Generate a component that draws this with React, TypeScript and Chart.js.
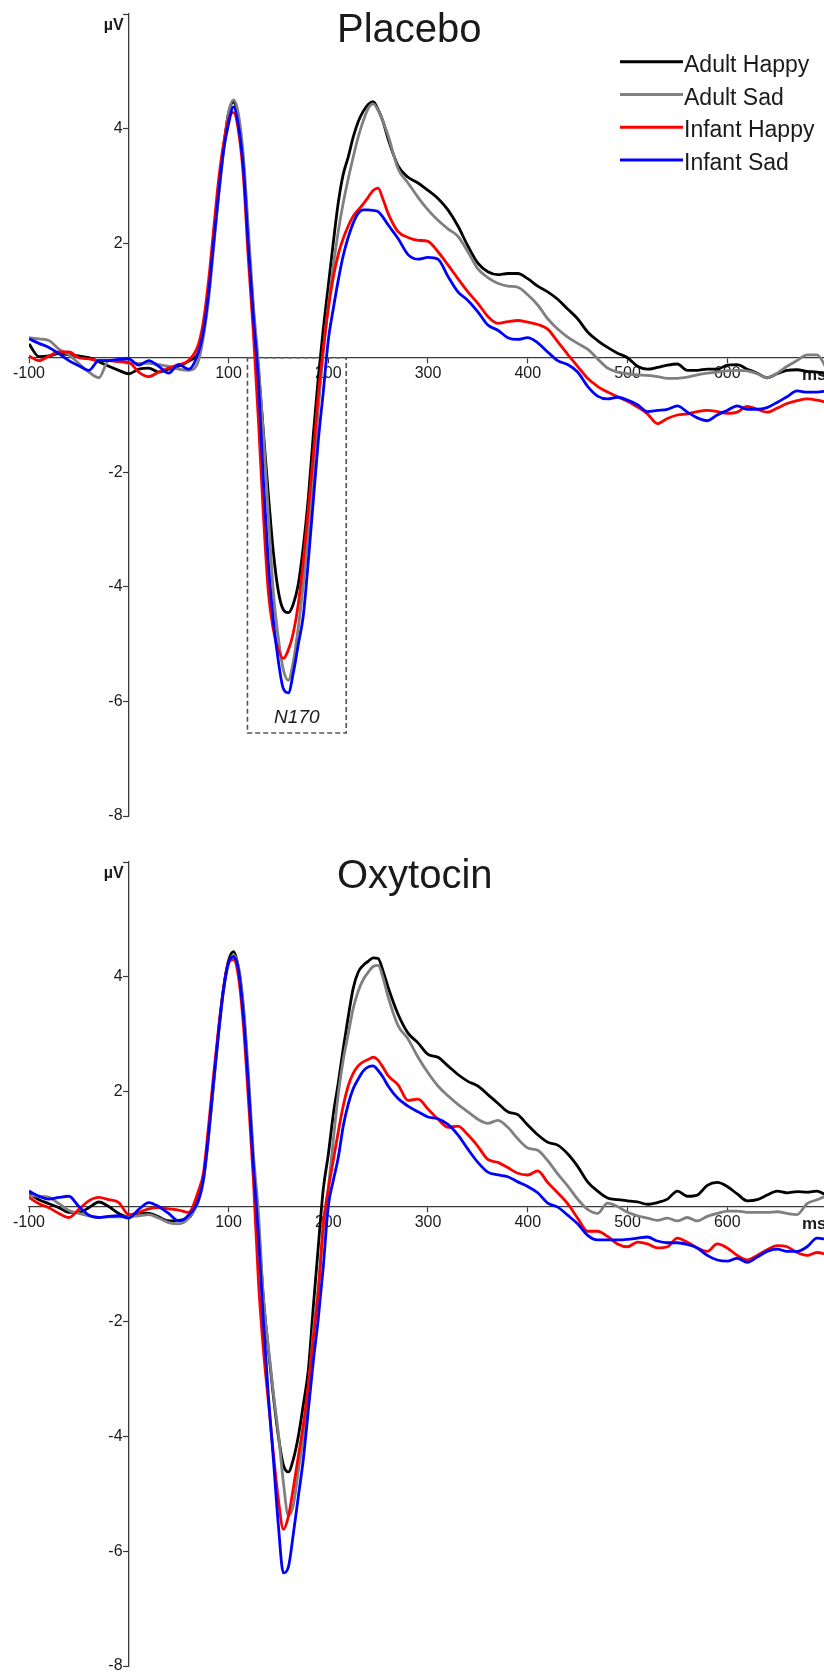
import React, { useEffect, useRef } from 'react';
import { Chart, registerables } from 'chart.js';

Chart.register(...registerables);

// ---------- data ----------
const TIMES = [
  -100, -90, -80, -70, -60, -50, -40, -30, -20, -10, 0, 10, 20, 30, 40, 50, 60, 70,
  75, 80, 85, 90, 95, 100, 105, 110, 115, 120, 125, 130, 135, 140, 145, 150, 155, 160, 165, 170,
  175, 180, 185, 190, 195, 200, 205, 210, 215, 220, 225, 230, 235, 240, 245, 250, 255, 260,
  270, 280, 290, 300, 310, 320, 330, 340, 350, 360, 370, 380, 390, 400, 410, 420, 430, 440,
  450, 460, 470, 480, 490, 500, 510, 520, 530, 540, 550, 560, 570, 580, 590, 600, 610, 620,
  630, 640, 650, 660, 670, 680, 690, 700,
];

const SERIES_NAMES = ['Adult Happy', 'Adult Sad', 'Infant Happy', 'Infant Sad'];
const SERIES_COLORS = ['#000000', '#808080', '#ff0000', '#0000ff'];

const PLACEBO_ADULT_HAPPY = [
  0.24, 0.02, 0.03, 0.07, 0.05, 0.03, 0.0, -0.07, -0.15, -0.22, -0.28, -0.2, -0.18, -0.25, -0.2, -0.15, -0.06, 0.1,
  0.45, 1.1, 2.0, 2.85, 3.65, 4.27, 4.46, 4.14, 3.32, 2.04, 0.8, -0.2, -1.3, -2.4, -3.4, -4.08, -4.4, -4.45, -4.3, -3.95,
  -3.3, -2.45, -1.35, -0.35, 0.5, 1.25, 2.0, 2.7, 3.2, 3.5, 3.85, 4.12, 4.3, 4.42, 4.47, 4.33, 4.12, 3.82,
  3.35, 3.15, 3.05, 2.92, 2.78, 2.58, 2.3, 1.95, 1.65, 1.5, 1.45, 1.47, 1.47, 1.38, 1.25, 1.15, 1.02, 0.85,
  0.68, 0.45, 0.3, 0.18, 0.08, 0.0, -0.15, -0.2, -0.17, -0.13, -0.11, -0.22, -0.22, -0.2, -0.2, -0.13, -0.12, -0.2,
  -0.27, -0.35, -0.28, -0.22, -0.21, -0.24, -0.25, -0.29,
];
const PLACEBO_ADULT_SAD = [
  0.35, 0.33, 0.3, 0.15, 0.05, -0.1, -0.25, -0.35, -0.05, -0.05, -0.1, -0.1, -0.1, -0.12, -0.15, -0.2, -0.22, -0.05,
  0.38, 1.0, 1.9, 2.8, 3.6, 4.27, 4.5, 4.25, 3.5, 2.2, 0.9, -0.1, -1.35, -2.75, -4.1, -4.9, -5.45, -5.63, -5.3, -4.7,
  -3.95, -3.05, -2.0, -0.9, 0.1, 0.9, 1.6, 2.2, 2.7, 3.12, 3.5, 3.85, 4.13, 4.35, 4.43, 4.32, 4.12, 3.88,
  3.3, 3.05, 2.8, 2.58, 2.4, 2.25, 2.12, 1.85, 1.55, 1.4, 1.3, 1.25, 1.23, 1.1, 0.92, 0.68, 0.5, 0.36,
  0.25, 0.15, -0.02, -0.18, -0.25, -0.28, -0.3, -0.31, -0.33, -0.36, -0.36, -0.34, -0.3, -0.27, -0.25, -0.23, -0.22, -0.23,
  -0.28, -0.35, -0.27, -0.15, -0.05, 0.05, 0.05, -0.2,
];
const PLACEBO_INFANT_HAPPY = [
  0.03, -0.05, 0.03, 0.1, 0.1, 0.0, -0.02, -0.05, -0.05, -0.07, -0.08, -0.25, -0.33, -0.25, -0.18, -0.12, -0.05, 0.24,
  0.65, 1.34, 2.22, 3.09, 3.73, 4.17, 4.28, 3.96, 3.15, 1.69, 0.42, -1.1, -2.75, -4.1, -4.75, -5.1, -5.25, -5.1, -4.8, -4.3,
  -3.55, -2.65, -1.7, -0.65, 0.15, 0.85, 1.4, 1.8, 2.08, 2.3, 2.47, 2.58, 2.68, 2.8, 2.92, 2.96, 2.76, 2.52,
  2.2, 2.1, 2.05, 2.03, 1.85, 1.62, 1.38, 1.15, 0.95, 0.72, 0.6, 0.63, 0.65, 0.62, 0.58, 0.5, 0.28, 0.06,
  -0.15, -0.36, -0.5, -0.6, -0.68, -0.76, -0.86, -0.98, -1.15, -1.06, -1.0, -0.98, -0.94, -0.92, -0.94, -0.97, -0.95, -0.85,
  -0.9, -0.95, -0.88, -0.8, -0.75, -0.72, -0.74, -0.78,
];
const PLACEBO_INFANT_SAD = [
  0.33, 0.25, 0.18, 0.07, -0.05, -0.14, -0.22, -0.05, -0.05, -0.03, -0.02, -0.13, -0.05, -0.15, -0.27, -0.12, -0.2, 0.1,
  0.47, 1.12, 1.99, 2.86, 3.61, 4.08, 4.38, 4.05, 3.3, 1.92, 0.7, -0.4, -2.15, -3.6, -4.6, -5.3, -5.78, -5.85, -5.5, -5.0,
  -4.5, -3.55, -2.5, -1.45, -0.6, 0.3, 0.85, 1.35, 1.78, 2.1, 2.35, 2.52, 2.58, 2.58, 2.57, 2.55, 2.45, 2.32,
  2.08, 1.8, 1.72, 1.75, 1.72, 1.42, 1.15, 1.0, 0.8, 0.57, 0.48, 0.35, 0.32, 0.35, 0.26, 0.1, -0.05, -0.12,
  -0.25, -0.5, -0.67, -0.72, -0.69, -0.74, -0.82, -0.94, -0.92, -0.9, -0.84, -0.95, -1.05, -1.1, -1.0, -0.92, -0.84, -0.9,
  -0.9, -0.87, -0.78, -0.68, -0.58, -0.6, -0.6, -0.58,
];

const OXYTOCIN_ADULT_HAPPY = [
  0.22, 0.12, 0.05, -0.02, -0.1, -0.1, -0.02, 0.08, 0.0, -0.12, -0.18, -0.12, -0.12, -0.18, -0.25, -0.24, -0.2, 0.15,
  0.5, 1.25, 2.15, 3.05, 3.8, 4.28, 4.44, 4.15, 3.42, 2.15, 0.75, -0.35, -1.6, -2.5, -3.3, -4.0, -4.5, -4.62, -4.4, -4.0,
  -3.45, -2.85, -1.75, -0.7, 0.3, 0.9, 1.6, 2.15, 2.75, 3.3, 3.8, 4.08, 4.2, 4.27, 4.33, 4.32, 4.1, 3.82,
  3.35, 3.02, 2.85, 2.65, 2.6, 2.45, 2.3, 2.18, 2.1, 1.95, 1.8, 1.65, 1.6, 1.42, 1.25, 1.12, 1.07, 0.92,
  0.7, 0.43, 0.27, 0.15, 0.12, 0.1, 0.08, 0.04, 0.07, 0.13, 0.27, 0.18, 0.2, 0.37, 0.42, 0.35, 0.22, 0.1,
  0.12, 0.2, 0.27, 0.24, 0.26, 0.25, 0.27, 0.19,
];
const OXYTOCIN_ADULT_SAD = [
  0.19, 0.18, 0.16, 0.05, -0.07, -0.12, -0.16, -0.19, -0.18, -0.18, -0.18, -0.16, -0.14, -0.2, -0.28, -0.3, -0.2, 0.1,
  0.45, 1.2, 2.1, 3.0, 3.75, 4.22, 4.38, 4.18, 3.5, 2.3, 0.9, -0.1, -1.6, -2.45, -3.25, -3.95, -4.8, -5.38, -5.2, -4.6,
  -4.0, -3.2, -2.2, -1.4, -0.45, 0.3, 1.15, 1.95, 2.55, 3.0, 3.45, 3.75, 3.95, 4.08, 4.18, 4.2, 3.98, 3.65,
  3.15, 2.92, 2.6, 2.33, 2.1, 1.93, 1.78, 1.65, 1.52, 1.45, 1.5, 1.38, 1.18, 1.02, 0.98, 0.8, 0.57, 0.36,
  0.13, -0.05, -0.12, 0.06, 0.0, -0.1, -0.16, -0.2, -0.24, -0.2, -0.25, -0.19, -0.25, -0.17, -0.12, -0.08, -0.08, -0.1,
  -0.1, -0.1, -0.09, -0.12, -0.14, 0.05, 0.12, 0.19,
];
const OXYTOCIN_INFANT_HAPPY = [
  0.16, 0.05, -0.02, -0.12, -0.19, -0.05, 0.1, 0.16, 0.12, 0.07, -0.14, -0.1, -0.04, -0.02, -0.04, -0.06, -0.1, 0.28,
  0.6, 1.4, 2.28, 3.1, 3.8, 4.25, 4.3, 4.0, 3.15, 1.85, 0.45, -1.3, -2.5, -3.4, -4.3, -5.1, -5.62, -5.4, -4.9, -4.35,
  -3.8, -3.1, -2.3, -1.5, -0.3, 0.3, 0.8, 1.3, 1.75, 2.1, 2.32, 2.45, 2.52, 2.56, 2.6, 2.55, 2.42, 2.28,
  2.12, 1.85, 1.87, 1.7, 1.52, 1.38, 1.4, 1.25, 1.05, 0.82, 0.77, 0.68, 0.58, 0.55, 0.62, 0.42, 0.24, 0.05,
  -0.2, -0.43, -0.43, -0.52, -0.65, -0.7, -0.62, -0.65, -0.72, -0.7, -0.55, -0.62, -0.72, -0.78, -0.65, -0.72, -0.85, -0.93,
  -0.85, -0.75, -0.68, -0.7, -0.8, -0.85, -0.8, -0.83,
];
const OXYTOCIN_INFANT_SAD = [
  0.27, 0.18, 0.13, 0.16, 0.18, 0.0, -0.15, -0.19, -0.17, -0.16, -0.2, -0.05, 0.07, 0.0, -0.12, -0.25, -0.15, 0.12,
  0.5, 1.25, 2.17, 3.02, 3.78, 4.25, 4.35, 4.12, 3.32, 2.1, 0.7, -0.5, -2.0, -3.3, -4.4, -5.55, -6.38, -6.28, -5.7, -5.05,
  -4.4, -3.55, -2.7, -1.95, -1.05, 0.0, 0.45, 0.85, 1.4, 1.78, 2.05, 2.22, 2.36, 2.43, 2.45, 2.37, 2.25, 2.1,
  1.88, 1.75, 1.65, 1.56, 1.53, 1.43, 1.25, 1.0, 0.77, 0.6, 0.55, 0.52, 0.43, 0.35, 0.24, 0.06, -0.01, -0.15,
  -0.3, -0.5, -0.58, -0.58, -0.58, -0.57, -0.55, -0.53, -0.6, -0.63, -0.63, -0.66, -0.72, -0.85, -0.93, -0.95, -0.9, -0.97,
  -0.88, -0.78, -0.74, -0.78, -0.78, -0.7, -0.55, -0.57,
];

const X_TICKS = [-100, 0, 100, 200, 300, 400, 500, 600];
const Y_TICKS = [-8, -6, -4, -2, 0, 2, 4, 6];
const N170_WINDOW = [119, 218];
const N170_BOTTOM = -6.55;
const N170_LABEL_Y = -6.38;

// ---------- styling ----------
const FONT = '"Liberation Sans", Arial, Helvetica, sans-serif';
const AXIS = '#3a3a3a';
const TXT = '#1a1a1a';

type PanelProps = {
  title: string;
  series: number[][];
  height: number;
  padTop: number;
  padBottom: number;
  titleBaseline: number;
  legend: boolean;
  box: boolean;
};

function makeOverlay(p: PanelProps) {
  return {
    id: 'erpOverlay',
    beforeDatasetsDraw(chart: any) {
      const { ctx, chartArea } = chart;
      const xs = chart.scales.x;
      const ys = chart.scales.y;
      const y0 = ys.getPixelForValue(0);
      ctx.save();
      ctx.fillStyle = TXT;
      ctx.font = `bold 17px ${FONT}`;
      ctx.textAlign = 'left';
      ctx.textBaseline = 'alphabetic';
      ctx.fillText('ms', chartArea.right - 22, y0 + 22);
      if (p.box) {
        const x1 = xs.getPixelForValue(N170_WINDOW[0]);
        const x2 = xs.getPixelForValue(N170_WINDOW[1]);
        const yb = ys.getPixelForValue(N170_BOTTOM);
        ctx.setLineDash([5, 3]);
        ctx.strokeStyle = '#555555';
        ctx.lineWidth = 1.6;
        ctx.strokeRect(x1, y0, x2 - x1, yb - y0);
        ctx.setLineDash([]);
        ctx.font = `italic 19px ${FONT}`;
        ctx.textAlign = 'center';
        ctx.fillStyle = TXT;
        ctx.fillText('N170', (x1 + x2) / 2, ys.getPixelForValue(N170_LABEL_Y));
      }
      ctx.restore();
    },
    afterDatasetsDraw(chart: any) {
      const { ctx, chartArea } = chart;
      const xs = chart.scales.x;
      ctx.save();
      ctx.fillStyle = TXT;
      ctx.textBaseline = 'alphabetic';
      // title
      ctx.font = `40px ${FONT}`;
      ctx.textAlign = 'left';
      ctx.fillText(p.title, 337, p.titleBaseline);
      // unit label
      ctx.font = `bold 16px ${FONT}`;
      ctx.textAlign = 'right';
      ctx.fillText('\u00b5V', xs.getPixelForValue(0) - 5, chartArea.top + 16);
      // legend
      if (p.legend) {
        ctx.font = `23px ${FONT}`;
        ctx.textAlign = 'left';
        SERIES_NAMES.forEach((name, i) => {
          const ly = 61.7 + i * 32.8;
          ctx.strokeStyle = SERIES_COLORS[i];
          ctx.lineWidth = 3;
          ctx.beginPath();
          ctx.moveTo(620, ly);
          ctx.lineTo(683, ly);
          ctx.stroke();
          ctx.fillStyle = TXT;
          ctx.fillText(name, 684, ly + 10);
        });
      }
      ctx.restore();
    },
  };
}

const yTicksSetter = (s: any) => {
  s.ticks = Y_TICKS.map((v) => ({ value: v }));
};
const yFitter = (s: any) => {
  s.width = 0;
  s.paddingTop = 0;
  s.paddingBottom = 0;
};

function Panel(p: PanelProps) {
  const ref = useRef<HTMLCanvasElement>(null);
  useEffect(() => {
    if (!ref.current) return;
    const chart = new Chart(ref.current, {
      type: 'line',
      data: {
        datasets: p.series.map((vals, i) => ({
          label: SERIES_NAMES[i],
          data: TIMES.map((t, j) => ({ x: t, y: vals[j] })),
          borderColor: SERIES_COLORS[i],
          backgroundColor: SERIES_COLORS[i],
          borderWidth: 2.8,
          pointRadius: 0,
          fill: false,
          cubicInterpolationMode: 'monotone' as const,
          order: 3 - i,
        })),
      },
      options: {
        responsive: false,
        animation: false,
        devicePixelRatio: 1,
        events: [],
        layout: { padding: { left: 29, right: 0, top: p.padTop, bottom: p.padBottom } },
        plugins: {
          legend: { display: false },
          tooltip: { enabled: false },
          title: { display: false },
        },
        scales: {
          x: {
            type: 'linear',
            min: -100,
            max: 697,
            position: { y: 0 } as any,
            afterBuildTicks: (s: any) => {
              s.ticks = X_TICKS.map((v) => ({ value: v }));
            },
            afterFit: (s: any) => {
              s.height = 0;
              s.paddingLeft = 0;
              s.paddingRight = 0;
            },
            grid: { drawOnChartArea: false, drawTicks: true, tickLength: 5, tickWidth: 1.2, tickColor: AXIS },
            border: { display: true, color: AXIS, width: 1.3 },
            ticks: {
              autoSkip: false,
              maxRotation: 0,
              padding: 1,
              color: TXT,
              font: { family: FONT, size: 16 },
              callback: (v: any) => (v === 0 ? '' : String(v)),
            },
          },
          // axis line and tick marks, crossing at 0 ms
          y: {
            type: 'linear',
            min: -8,
            max: 6,
            position: { x: 0 } as any,
            afterBuildTicks: yTicksSetter,
            afterFit: yFitter,
            grid: { drawOnChartArea: false, drawTicks: true, tickLength: 5, tickWidth: 1.2, tickColor: AXIS },
            border: { display: true, color: AXIS, width: 1.3 },
            ticks: { display: false, autoSkip: false },
          },
          // tick labels, set just left of the tick marks
          yLabels: {
            type: 'linear',
            axis: 'y',
            min: -8,
            max: 6,
            position: { x: -6.2 } as any,
            afterBuildTicks: yTicksSetter,
            afterFit: yFitter,
            grid: { display: false },
            border: { display: false },
            ticks: {
              autoSkip: false,
              padding: 0,
              color: TXT,
              font: { family: FONT, size: 16 },
              callback: (v: any) => (v === 0 || v === 6 ? '' : String(v)),
            },
          },
        },
      } as any,
      plugins: [makeOverlay(p)],
    });
    return () => chart.destroy();
  }, []);
  return (
    <canvas
      ref={ref}
      width={824}
      height={p.height}
      style={{ display: 'block', width: 824, height: p.height }}
    />
  );
}

export default function App() {
  return (
    <div style={{ position: 'absolute', left: 0, top: 0, width: 824, height: 1673, background: '#ffffff' }}>
      <Panel
        title="Placebo"
        series={[PLACEBO_ADULT_HAPPY, PLACEBO_ADULT_SAD, PLACEBO_INFANT_HAPPY, PLACEBO_INFANT_SAD]}
        height={840}
        padTop={14}
        padBottom={24}
        titleBaseline={42}
        legend={true}
        box={true}
      />
      <Panel
        title="Oxytocin"
        series={[OXYTOCIN_ADULT_HAPPY, OXYTOCIN_ADULT_SAD, OXYTOCIN_INFANT_HAPPY, OXYTOCIN_INFANT_SAD]}
        height={833}
        padTop={22}
        padBottom={7}
        titleBaseline={48}
        legend={false}
        box={false}
      />
    </div>
  );
}
